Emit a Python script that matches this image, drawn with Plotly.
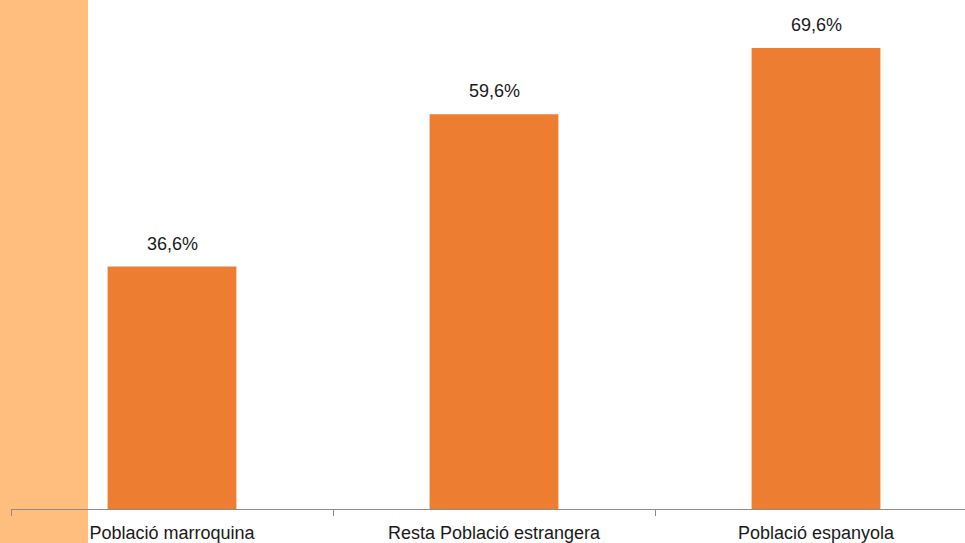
import plotly.graph_objects as go

categories = ["Població marroquina", "Resta Població estrangera", "Població espanyola"]
values = [36.6, 59.6, 69.6]
labels = [f"{v:.1f}".replace(".", ",") + "%" for v in values]

fig = go.Figure()
fig.add_trace(go.Bar(
    x=categories, y=values, marker=dict(color="#ED7D31", line=dict(width=0)),
    width=0.4, hoverinfo="skip",
))
for c, v, t in zip(categories, values, labels):
    fig.add_annotation(x=c, y=v, text=t, showarrow=False, yanchor="bottom", yshift=11,
                       font=dict(family="Liberation Sans, Arial", size=18, color="#1a1a1a"))

W, H = 965, 543
ml, mb = 11, 34
pw, ph = W - ml, H - mb
fig.add_shape(type="rect", xref="paper", yref="paper",
              x0=-ml / pw - 0.01, x1=(88 - ml) / pw, y0=-mb / ph - 0.01, y1=1.01,
              fillcolor="#FFBE7D", line=dict(width=0), layer="below")

fig.update_layout(
    width=W, height=H,
    margin=dict(l=ml, r=0, t=0, b=mb, autoexpand=False),
    paper_bgcolor="white", plot_bgcolor="rgba(0,0,0,0)",
    showlegend=False,
    xaxis=dict(range=[-0.5, -0.5 + pw / 322], showline=True, linecolor="#8c8c8c", linewidth=1,
               ticks="outside", tickson="boundaries", ticklen=6, tickcolor="#8c8c8c",
               ticklabelstandoff=7,
               tickfont=dict(family="Liberation Sans, Arial", size=18, color="#1a1a1a"),
               showgrid=False, zeroline=False, fixedrange=True),
    yaxis=dict(range=[0, 509 / 6.624], visible=False, showgrid=False, zeroline=False,
               fixedrange=True),
)
fig.write_html("out.html", config={"displayModeBar": False, "staticPlot": True},
               post_script="document.body.style.margin='0';document.body.style.overflow='hidden';")
